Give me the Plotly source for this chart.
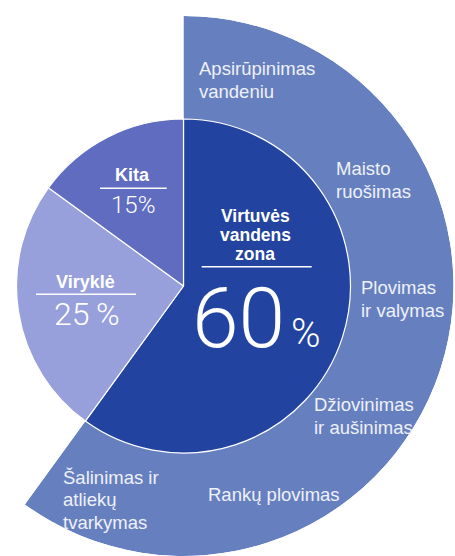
import math
import plotly.graph_objects as go

W, H = 455, 556

# ---- data ----
inner_labels = ["Virtuvės vandens zona", "Viryklė", "Kita"]
inner_values = [60, 25, 15]
inner_pct_text = ["60", "25\u2009%", "15%"]
inner_colors = ["#2244a0", "#98a0dc", "#5f6cbf"]
outer_color = "#6680bf"
outer_labels = [
    "Apsirūpinimas vandeniu",
    "Maisto ruošimas",
    "Plovimas ir valymas",
    "Džiovinimas ir aušinimas",
    "Rankų plovimas",
    "Šalinimas ir atliekų tvarkymas",
]
outer_label_lines = [
    ["Apsirūpinimas", "vandeniu"],
    ["Maisto", "ruošimas"],
    ["Plovimas", "ir valymas"],
    ["Džiovinimas", "ir aušinimas"],
    ["Rankų plovimas"],
    ["Šalinimas ir", "atliekų", "tvarkymas"],
]

# ---- layout geometry (pixels) ----
CX, CY = 183.5, 286
R_IN, R_OUT = 167, 270


def px(x):
    return x / W


def py(y):
    return 1 - y / H


total = sum(inner_values)
span = inner_values[0] / total * 360          # angular span of the outer ring
sector = [90 - span, 90]                      # screen angles (ccw from 3 o'clock)
left_ext = -min(0.0, math.cos(math.radians(sector[0])))

# outer polar: domain = bounding box of the sector
outer_dom_x = [px(CX - left_ext * R_OUT), px(CX + R_OUT)]
outer_dom_y = [max(0.0, py(CY + R_OUT)), py(CY - R_OUT)]

# inner pie domain
dom_x = [px(CX - R_IN), px(CX + R_IN)]
dom_y = [py(CY + R_IN), py(CY - R_IN)]

fig = go.Figure()
fig.add_trace(go.Barpolar(
    r=[1], theta=[span / 2], width=[span], base=0,
    marker=dict(color=outer_color, line=dict(width=0)),
    hoverinfo="skip", subplot="polar", showlegend=False,
))
fig.add_trace(go.Pie(
    values=inner_values, labels=inner_labels, sort=False,
    direction="clockwise", rotation=0,
    marker=dict(colors=inner_colors, line=dict(color="white", width=1.2)),
    textinfo="none", hoverinfo="label+percent",
    domain=dict(x=dom_x, y=dom_y), showlegend=False,
))

SANS = "Liberation Sans, Arial, Helvetica, sans-serif"
LIGHT = "Roboto, Lato, Inter, sans-serif"


def label(text, x, baseline, size, family=SANS, weight=400, color="white", anchor="left"):
    fig.add_annotation(
        x=px(x), y=py(baseline - 0.345 * size), xref="paper", yref="paper",
        text=text, showarrow=False, xanchor=anchor, yanchor="middle",
        font=dict(size=size, family=family, color=color, weight=weight),
        borderpad=0, borderwidth=0,
    )


def hline(x0, x1, y):
    fig.add_shape(type="line", xref="paper", yref="paper",
                  x0=px(x0), x1=px(x1), y0=py(y), y1=py(y),
                  line=dict(color="white", width=1.5))


# outer ring labels
outer_pos = [(199, 75), (336, 175), (361, 294), (314, 411), (208, 501), (63, 483.5)]
LS = 22.5
for lines, (x, b) in zip(outer_label_lines, outer_pos):
    for i, ln in enumerate(lines):
        label(ln, x, b + i * LS, 18.5, color="#eef0fa")

# big slice
for i, ln in enumerate(["Virtuvės", "vandens", "zona"]):
    label(ln, 255, 222.5 + i * 19, 17.5, weight=700, anchor="center")
hline(201.7, 311.7, 266.7)
label(inner_pct_text[0], 238, 347, 84, family=LIGHT, weight=300, anchor="center")
label("%", 306, 347, 40, family=LIGHT, weight=300, anchor="center")

# Kita
label(inner_labels[2], 132.5, 181.7, 18, weight=700, anchor="center")
hline(100, 166.7, 188.3)
label(inner_pct_text[2], 133.3, 213.3, 24, family=LIGHT, weight=300, anchor="center")

# Viryklė
label(inner_labels[1], 85.8, 288.3, 18, weight=700, anchor="center")
hline(36, 136, 294.3)
label(inner_pct_text[1], 87.3, 325, 32, family=LIGHT, weight=300, anchor="center")

fig.update_layout(
    width=W, height=H, margin=dict(l=0, r=0, t=0, b=0),
    paper_bgcolor="white", plot_bgcolor="white", showlegend=False,
    polar=dict(
        domain=dict(x=outer_dom_x, y=outer_dom_y), sector=sector,
        bgcolor="rgba(0,0,0,0)",
        radialaxis=dict(range=[0, 1], visible=False),
        angularaxis=dict(rotation=90, direction="clockwise", visible=False),
    ),
)

fig.write_html("out.html")
